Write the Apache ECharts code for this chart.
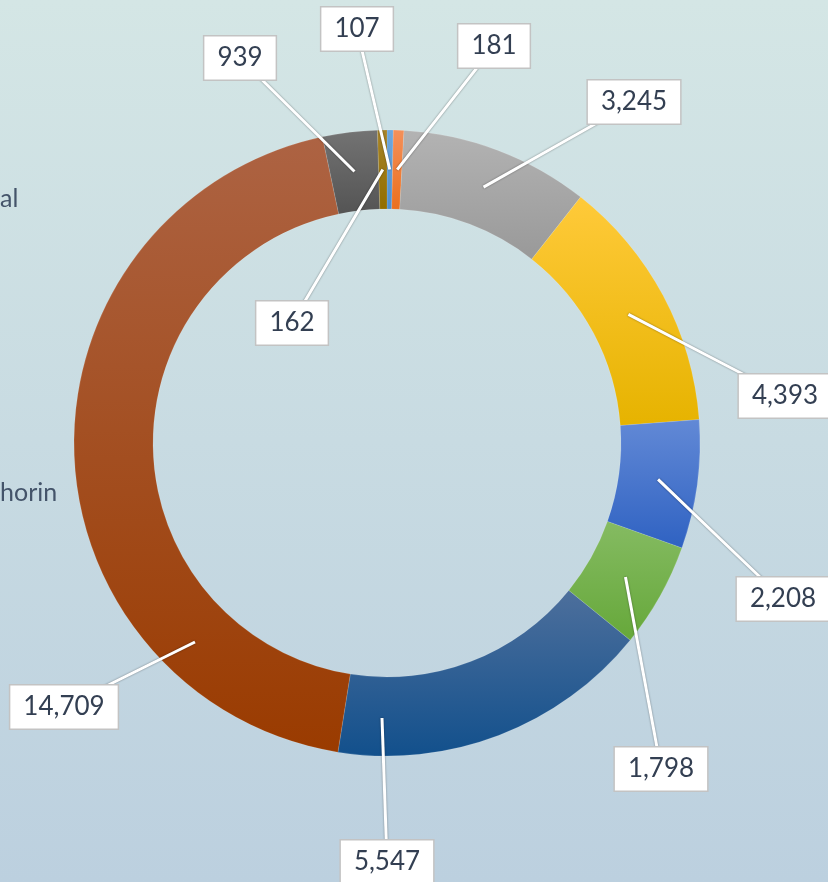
<!DOCTYPE html>
<html>
<head>
<meta charset="utf-8">
<script src="https://cdn.jsdelivr.net/npm/echarts@6/dist/echarts.min.js"></script>
<style>
  html, body { margin: 0; padding: 0; }
  #chart { width: 828px; height: 882px; }
</style>
</head>
<body>
<div id="chart"></div>
<script>
// data, clockwise from 12 o'clock
const categories = ['Item 1', 'Item 2', 'Item 3', 'Item 4', 'Item 5', 'Item 6', 'Item 7', 'Item 8', 'Item 9', 'Item 10'];
const values = [107, 181, 3245, 4393, 2208, 1798, 5547, 14709, 939, 162];

// slice fills, top -> bottom of each slice
const fillTop = ['#6fa8dc', '#f4905a', '#b3b3b3', '#ffca3a', '#6289d6', '#85bb62', '#4d6f9c', '#ad6343', '#737373', '#a7842a'];
const fillBottom = ['#4f8fcf', '#eb6f1e', '#999999', '#e6b300', '#2f62c2', '#66a83a', '#12508c', '#9a3b00', '#545454', '#926e00'];

// where each callout box sits (centre, px)
const labelSpots = [[357, 29], [494, 46], [634, 102], [785, 396], [783, 599], [661, 769], [387, 862], [64, 707], [240, 58], [292, 323]];
// callout pointer tips that are not at the slice's mid angle (null = mid angle)
const tipOverride = [null, null, null, null, null, null, [382, 718], [195, 642], null, null];

const cx = 387, cy = 443, rOuter = 313, rInner = 234;

const chart = echarts.init(document.getElementById('chart'));

const ringData = categories.map((name, i) => ({
  name,
  value: values[i],
  itemStyle: {
    color: new echarts.graphic.LinearGradient(0, 0, 0, 1, [
      { offset: 0, color: fillTop[i] },
      { offset: 1, color: fillBottom[i] }
    ])
  }
}));
const calloutData = categories.map((name, i) => ({ name, value: values[i] }));

chart.setOption({
  backgroundColor: new echarts.graphic.LinearGradient(0, 0, 0, 1, [
    { offset: 0, color: '#d4e6e5' },
    { offset: 1, color: '#bcd0df' }
  ]),
  animation: false,
  graphic: [
    { type: 'text', left: 0, top: 186, style: { text: 'al', font: '25px Lato', fill: '#44546a' } },
    { type: 'text', left: 0, top: 480, style: { text: 'horin', font: '25px Lato', fill: '#44546a' } }
  ],
  series: [{
    type: 'pie',
    z: 1,
    center: [cx, cy],
    radius: [rInner, rOuter],
    startAngle: 90,
    clockwise: true,
    itemStyle: { borderColor: 'rgba(255,255,255,0.25)', borderWidth: 0.5 },
    label: { show: false },
    labelLine: { show: false },
    data: ringData
  }, {
    // transparent copy on top, only carries the callouts
    type: 'pie',
    z: 6,
    zlevel: 1,
    center: [cx, cy],
    radius: [rInner, rOuter],
    startAngle: 90,
    clockwise: true,
    silent: true,
    avoidLabelOverlap: false,
    itemStyle: { color: 'rgba(0,0,0,0)' },
    label: {
      show: true,
      position: 'outside',
      formatter: p => p.value.toLocaleString('en-US'),
      fontFamily: 'Lato',
      fontSize: 26,
      color: '#333f52',
      backgroundColor: '#ffffff',
      borderColor: '#c3c3c3',
      borderWidth: 1.5,
      padding: [7, 13],
      lineHeight: 29,
      align: 'center',
      verticalAlign: 'middle'
    },
    labelLine: {
      show: true,
      lineStyle: { color: '#ffffff', width: 3, shadowColor: 'rgba(0,0,0,0.45)', shadowBlur: 2 }
    },
    labelLayout: function (params) {
      const i = params.dataIndex;
      const spot = labelSpots[i];
      let tip = tipOverride[i];
      if (!tip) {
        const p0 = params.labelLinePoints ? params.labelLinePoints[0] : [cx, cy];
        const k = ((rInner + rOuter) / 2) / rOuter;
        tip = [cx + (p0[0] - cx) * k, cy + (p0[1] - cy) * k];
      }
      const mid = [(tip[0] + spot[0]) / 2, (tip[1] + spot[1]) / 2];
      return {
        x: spot[0],
        y: spot[1],
        align: 'center',
        verticalAlign: 'middle',
        labelLinePoints: [tip, mid, spot]
      };
    },
    data: calloutData
  }]
});
</script>
</body>
</html>
